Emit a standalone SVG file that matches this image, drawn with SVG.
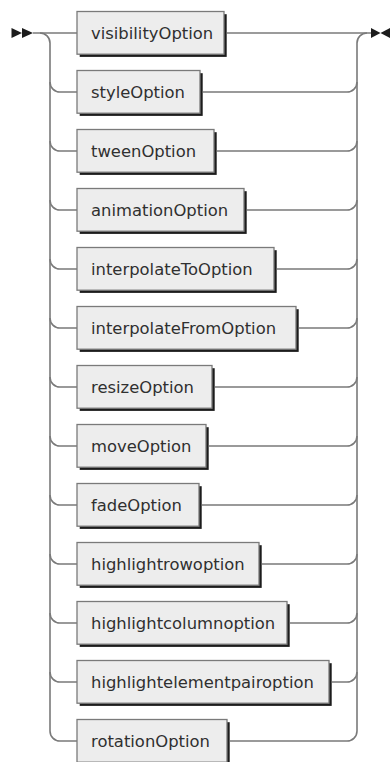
<svg xmlns="http://www.w3.org/2000/svg" width="391" height="762" viewBox="0 0 391 762">
<style>
.line{fill:none;stroke:#7a7a7a;stroke-width:1.6}
.shadow{fill:#1c1c1c}
.box{fill:#ededed;stroke:#7a7a7a;stroke-width:1.3}
.lbl{font-family:"DejaVu Sans",Verdana,sans-serif;font-size:16.4px;fill:#303030}
.mark{fill:#1c1c1c}
</style>
<rect width="391" height="762" fill="#ffffff"/>
<g id="connectors">
<polygon class="mark" points="11.5,28 22,33 11.5,38"/>
<polygon class="mark" points="22,28 33,33 22,38"/>
<polygon class="mark" points="371,28 380.5,33 371,38"/>
<polygon class="mark" points="390,28 380.5,33 390,38"/>
<path class="line" d="M33 33 H77"/>
<path class="line" d="M40 33 A10 10 0 0 1 50 43 V731 A10 10 0 0 0 60 741 H77"/>
<path class="line" d="M227 33 H371"/>
<path class="line" d="M347 741 A10 10 0 0 0 357 731 V43 A10 10 0 0 1 367 33"/>
<path class="line" d="M50 82 A10 10 0 0 0 60 92 H77 M50 141 A10 10 0 0 0 60 151 H77 M50 200 A10 10 0 0 0 60 210 H77 M50 259 A10 10 0 0 0 60 269 H77 M50 318 A10 10 0 0 0 60 328 H77 M50 377 A10 10 0 0 0 60 387 H77 M50 436 A10 10 0 0 0 60 446 H77 M50 495 A10 10 0 0 0 60 505 H77 M50 554 A10 10 0 0 0 60 564 H77 M50 613 A10 10 0 0 0 60 623 H77 M50 672 A10 10 0 0 0 60 682 H77"/>
<path class="line" d="M203 92 H347 A10 10 0 0 0 357 82 M217 151 H347 A10 10 0 0 0 357 141 M247 210 H347 A10 10 0 0 0 357 200 M277 269 H347 A10 10 0 0 0 357 259 M299 328 H347 A10 10 0 0 0 357 318 M215 387 H347 A10 10 0 0 0 357 377 M209 446 H347 A10 10 0 0 0 357 436 M202 505 H347 A10 10 0 0 0 357 495 M262 564 H347 A10 10 0 0 0 357 554 M290 623 H347 A10 10 0 0 0 357 613 M332 682 H347 A10 10 0 0 0 357 672 M230 741 H347"/>
</g>
<g id="n0"><rect class="shadow" x="79.7" y="14.2" width="147" height="42.7"/><rect class="box" x="77" y="11.5" width="147" height="42.7"/><text class="lbl" x="91" y="39">visibilityOption</text></g>
<g id="n1"><rect class="shadow" x="79.7" y="73.2" width="123" height="42.7"/><rect class="box" x="77" y="70.5" width="123" height="42.7"/><text class="lbl" x="91" y="98">styleOption</text></g>
<g id="n2"><rect class="shadow" x="79.7" y="132.2" width="137" height="42.7"/><rect class="box" x="77" y="129.5" width="137" height="42.7"/><text class="lbl" x="91" y="157">tweenOption</text></g>
<g id="n3"><rect class="shadow" x="79.7" y="191.2" width="167" height="42.7"/><rect class="box" x="77" y="188.5" width="167" height="42.7"/><text class="lbl" x="91" y="216">animationOption</text></g>
<g id="n4"><rect class="shadow" x="79.7" y="250.2" width="197" height="42.7"/><rect class="box" x="77" y="247.5" width="197" height="42.7"/><text class="lbl" x="91" y="275">interpolateToOption</text></g>
<g id="n5"><rect class="shadow" x="79.7" y="309.2" width="219" height="42.7"/><rect class="box" x="77" y="306.5" width="219" height="42.7"/><text class="lbl" x="91" y="334">interpolateFromOption</text></g>
<g id="n6"><rect class="shadow" x="79.7" y="368.2" width="135" height="42.7"/><rect class="box" x="77" y="365.5" width="135" height="42.7"/><text class="lbl" x="91" y="393">resizeOption</text></g>
<g id="n7"><rect class="shadow" x="79.7" y="427.2" width="129" height="42.7"/><rect class="box" x="77" y="424.5" width="129" height="42.7"/><text class="lbl" x="91" y="452">moveOption</text></g>
<g id="n8"><rect class="shadow" x="79.7" y="486.2" width="122" height="42.7"/><rect class="box" x="77" y="483.5" width="122" height="42.7"/><text class="lbl" x="91" y="511">fadeOption</text></g>
<g id="n9"><rect class="shadow" x="79.7" y="545.2" width="182" height="42.7"/><rect class="box" x="77" y="542.5" width="182" height="42.7"/><text class="lbl" x="91" y="570">highlightrowoption</text></g>
<g id="n10"><rect class="shadow" x="79.7" y="604.2" width="210" height="42.7"/><rect class="box" x="77" y="601.5" width="210" height="42.7"/><text class="lbl" x="91" y="629">highlightcolumnoption</text></g>
<g id="n11"><rect class="shadow" x="79.7" y="663.2" width="252" height="42.7"/><rect class="box" x="77" y="660.5" width="252" height="42.7"/><text class="lbl" x="91" y="688">highlightelementpairoption</text></g>
<g id="n12"><rect class="shadow" x="79.7" y="722.2" width="150" height="42.7"/><rect class="box" x="77" y="719.5" width="150" height="42.7"/><text class="lbl" x="91" y="747">rotationOption</text></g>
</svg>
